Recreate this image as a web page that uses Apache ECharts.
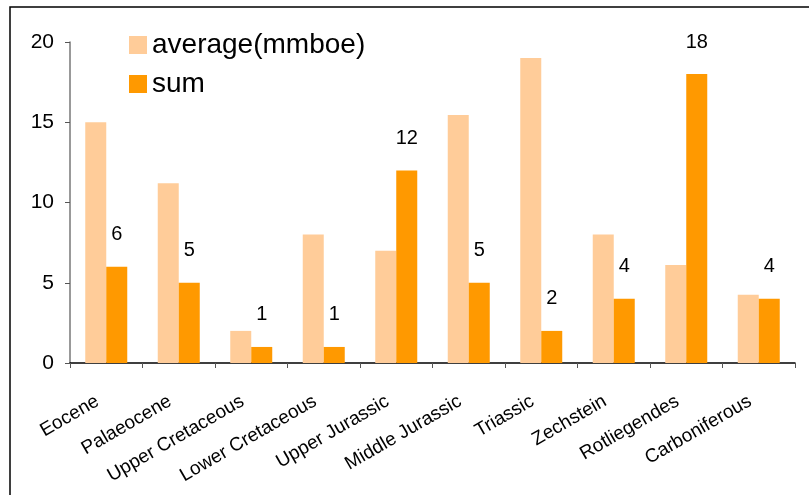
<!DOCTYPE html>
<html>
<head>
<meta charset="utf-8">
<script src="https://cdn.jsdelivr.net/npm/echarts@6/dist/echarts.min.js"></script>
<style>
  html, body { margin: 0; padding: 0; background: #fff; }
  #chart { width: 809px; height: 495px; }
</style>
</head>
<body>
<div id="chart"></div>
<script>
// formations along the x axis
const categories = ['Eocene', 'Palaeocene', 'Upper Cretaceous', 'Lower Cretaceous', 'Upper Jurassic',
  'Middle Jurassic', 'Triassic', 'Zechstein', 'Rotliegendes', 'Carboniferous'];
const averageValues = [15, 11.2, 2, 8, 7, 15.45, 19, 8, 6.1, 4.25];
const sumValues = [6, 5, 1, 1, 12, 5, 2, 4, 18, 4];
const yTicks = [0, 5, 10, 15, 20];

const font = 'Liberation Sans, Arial, sans-serif';
let myChart = echarts.init(document.getElementById('chart'));

myChart.setOption({
  animation: false,
  backgroundColor: '#fff',
  textStyle: { fontFamily: font },
  graphic: [{
    type: 'rect',
    shape: { x: 10, y: 7, width: 900, height: 600 },
    style: { fill: 'none', stroke: '#000', lineWidth: 1.5 },
    silent: true
  }],
  legend: {
    orient: 'vertical',
    left: 124,
    top: 26,
    itemWidth: 18,
    itemHeight: 18,
    itemGap: 11,
    icon: 'rect',
    textStyle: { fontSize: 28, color: '#000', fontFamily: font },
    data: ['average(mmboe)', 'sum']
  },
  grid: { left: 70, right: 14, top: 42, bottom: 132 },
  xAxis: {
    type: 'category',
    data: categories,
    axisLine: { lineStyle: { color: '#000', width: 1.5 } },
    axisTick: { show: true, length: 5, lineStyle: { color: '#555' } },
    axisLabel: {
      rotate: 30,
      interval: 0,
      fontSize: 19,
      color: '#000',
      fontFamily: font,
      margin: 32,
      padding: [0, 10, 0, 0]
    }
  },
  yAxis: {
    type: 'value',
    min: yTicks[0],
    max: yTicks[yTicks.length - 1],
    interval: 5,
    splitLine: { show: false },
    axisLine: { show: true, lineStyle: { color: '#777', width: 1.5 } },
    axisTick: { show: true, length: 5, lineStyle: { color: '#555' } },
    axisLabel: { fontSize: 21, color: '#000', fontFamily: font, margin: 16 }
  },
  series: [
    {
      name: 'average(mmboe)',
      type: 'bar',
      data: averageValues,
      barWidth: 21,
      barGap: '0%',
      itemStyle: { color: '#FFCC99' }
    },
    {
      name: 'sum',
      type: 'bar',
      data: sumValues,
      barWidth: 21,
      itemStyle: { color: '#FF9900' },
      label: {
        show: true,
        position: 'top',
        distance: 22,
        fontSize: 20,
        color: '#000',
        fontFamily: font
      }
    }
  ]
});
</script>
</body>
</html>
